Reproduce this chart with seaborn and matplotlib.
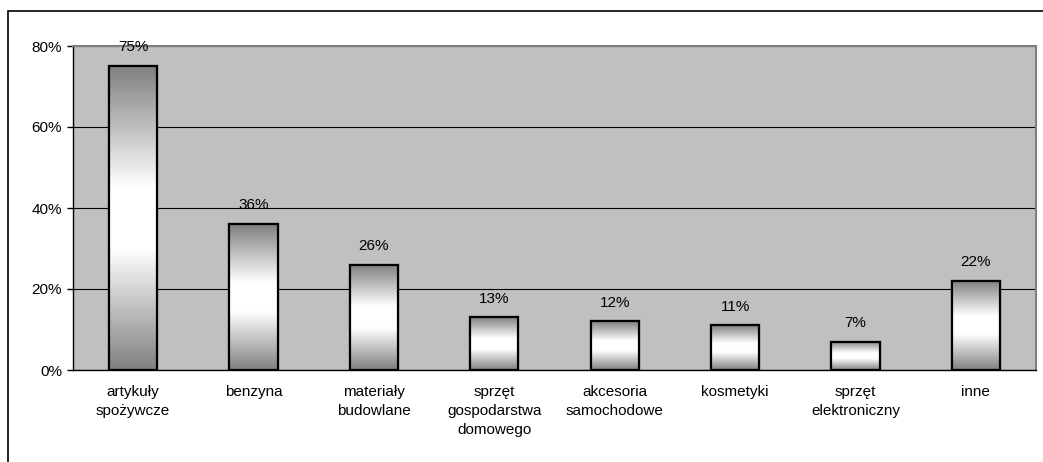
import numpy as np
import pandas as pd
import matplotlib
matplotlib.use("Agg")
import matplotlib.pyplot as plt
from matplotlib.patches import Rectangle
from matplotlib.colors import LinearSegmentedColormap
import seaborn as sns

categories = ["artykuły\nspożywcze", "benzyna", "materiały\nbudowlane",
              "sprzęt\ngospodarstwa\ndomowego", "akcesoria\nsamochodowe",
              "kosmetyki", "sprzęt\nelektroniczny", "inne"]
values = [75, 36, 26, 13, 12, 11, 7, 22]

df = pd.DataFrame({"kategoria": categories, "udzial": values})

sns.set_style("white")
plt.rcParams["font.family"] = ["Liberation Sans", "DejaVu Sans"]
plt.rcParams["text.color"] = "black"
plt.rcParams["xtick.color"] = "black"
plt.rcParams["ytick.color"] = "black"
FS = 11

fig = plt.figure(figsize=(10.43, 4.62), dpi=100)
ax = fig.add_axes([73 / 1043, 1 - 370 / 462, (1036 - 73) / 1043, (370 - 46) / 462])

sns.barplot(data=df, x="kategoria", y="udzial", ax=ax, width=0.4,
            color="white", edgecolor="black", linewidth=1.5, zorder=3)

ax.set_facecolor("#c0c0c0")
ax.set_ylim(0, 80)
ax.set_xlim(-0.5, len(categories) - 0.5)

# gradient fill: grey - white - grey
cmap = LinearSegmentedColormap.from_list(
    "g", [(0, "#808080"), (0.4, "#ffffff"), (0.6, "#ffffff"), (1, "#808080")])
grad = np.linspace(0, 1, 256).reshape(-1, 1)
for p in ax.patches:
    x0, y0 = p.get_x(), p.get_y()
    w, h = p.get_width(), p.get_height()
    im = ax.imshow(grad, cmap=cmap, aspect="auto", extent=[x0, x0 + w, y0, y0 + h],
                   zorder=3.5, interpolation="bicubic")
    im.set_clip_path(p)
    edge = Rectangle((x0, y0), w, h, fill=False, edgecolor="black", linewidth=1.6, zorder=4)
    ax.add_patch(edge)

for i, v in enumerate(values):
    ax.annotate(f"{v}%", (i, v), xytext=(0, 8.5), textcoords="offset points",
                ha="center", va="bottom", fontsize=FS, zorder=5)

ax.set_yticks([0, 20, 40, 60, 80])
ax.set_yticklabels([f"{t}%" for t in [0, 20, 40, 60, 80]], fontsize=FS)
ax.yaxis.grid(True, color="black", linewidth=0.8, zorder=0)
ax.set_axisbelow(True)

ax.set_xticks(np.arange(len(categories) + 1) - 0.5)
ax.set_xticklabels([])
ax.set_xticks(np.arange(len(categories)), minor=True)
ax.set_xticklabels(categories, minor=True, fontsize=FS, va="top", linespacing=1.42)
ax.tick_params(axis="x", which="minor", length=0, pad=11)
ax.tick_params(axis="x", which="major", length=4, width=1, color="black", direction="out")
ax.tick_params(axis="y", length=4, width=1, color="black", direction="out", pad=4, left=True)

ax.set_xlabel("")
ax.set_ylabel("")
for side in ["top", "right"]:
    ax.spines[side].set_color("#808080")
    ax.spines[side].set_linewidth(1.5)
for side in ["left", "bottom"]:
    ax.spines[side].set_color("black")
    ax.spines[side].set_linewidth(1)

# outer chart border
fig.patches.append(Rectangle((8 / 1043, -0.1), 1.1, 1.1 - 11 / 462,
                             transform=fig.transFigure, fill=False,
                             edgecolor="black", linewidth=1.2, figure=fig))

fig.savefig("out.png", dpi=100)
